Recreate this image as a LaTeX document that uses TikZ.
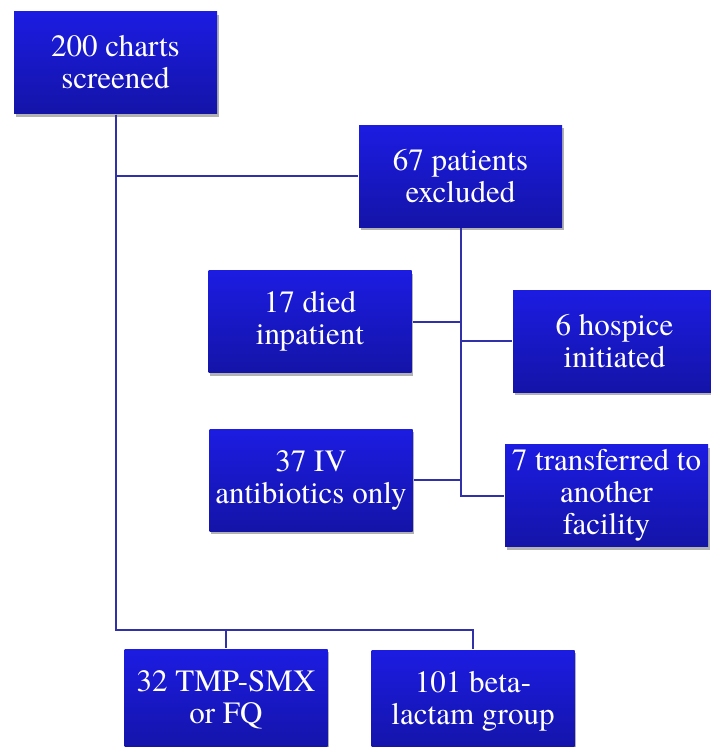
\documentclass[tikz,border=0pt]{standalone}
\usepackage{fontspec}
\setmainfont{texgyretermes-regular.otf}
\usepackage{tikz}
\usetikzlibrary{shadows}
\definecolor{boxtop}{RGB}{28,28,226}
\definecolor{boxbot}{RGB}{20,20,168}
\definecolor{wire}{RGB}{48,48,168}

\begin{document}
\begin{tikzpicture}[
      x = 1pt, y = -1pt,
      every node/.style = {
        rectangle, top color = boxtop, bottom color = boxbot,
        text = white, align = center, inner sep = 0pt,
        minimum width = 203pt, minimum height = 102pt,
        font = \fontsize{31}{32}\selectfont,
        drop shadow = {shadow xshift = 1.5pt, shadow yshift = -3pt,
          opacity = .3, fill = black}},
      every path/.style = {wire, line width = 2pt}
      ]
    \useasboundingbox (0,0) rectangle (710,747);
    \node (A) at (115.5,62.5) {200 charts\\screened}; % top
    \node (B) at (460.5,176) {67 patients\\excluded}; % excluded
    \node (C) at (310,321.5) {17 died\\inpatient};
    \node (D) at (614.5,341) {6 hospice\\initiated};
    \node (E) at (311,480) {37 IV\\antibiotics only};
    \node (F) at (606.5,495.5) {7 transferred to\\another\\facility};
    \node (G) at (226,700) {32 TMP-SMX\\or FQ}; % groups
    \node (H) at (473,701) {101 beta-\\lactam group};
    \draw (A.south) |- (B.west);
    \draw (A.south) -- ++(0,515.5) -| (G.north);
    \draw (A.south) -- ++(0,515.5) -| (H.north);
    \draw (B.south) |- (C.east);
    \draw (B.south) |- (D.west);
    \draw (B.south) |- (E.east);
    \draw (B.south) |- (F.west);
  \end{tikzpicture}
\end{document}
